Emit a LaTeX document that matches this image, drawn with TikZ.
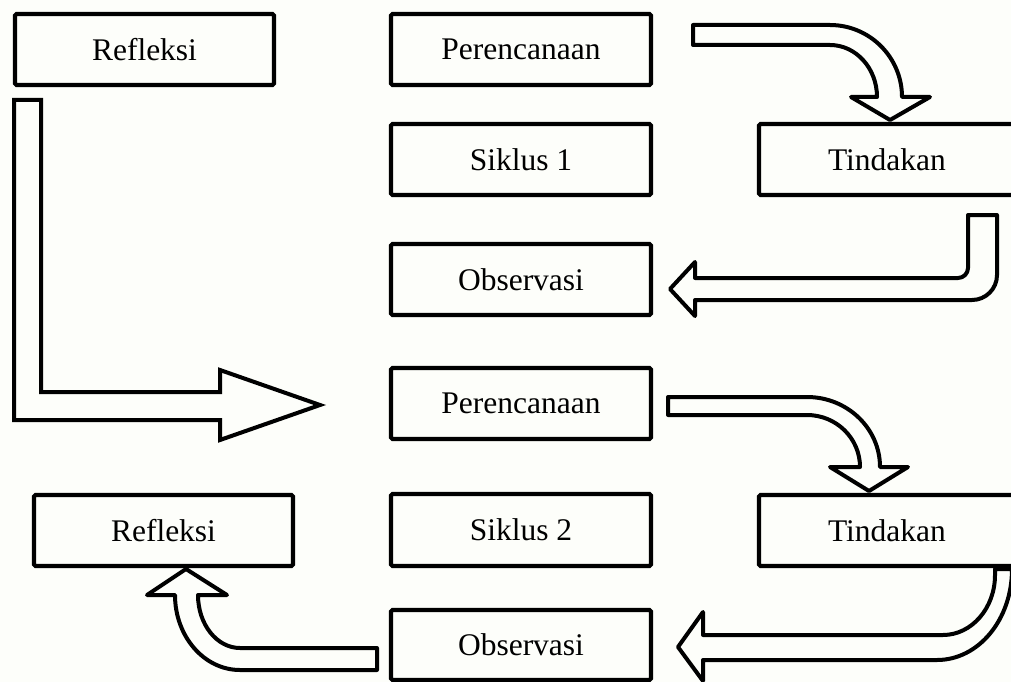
\documentclass[tikz,border=0pt]{standalone}
\usepackage{fontspec}
\setmainfont{Liberation Serif}
\definecolor{bg}{RGB}{253,254,250}
\begin{document}
\begin{tikzpicture}[x=1pt,y=-1pt,
  box/.style={draw=black, line width=4.2pt, rounded corners=1.5pt, fill=bg, inner sep=0pt,
    minimum height=71pt, font=\fontsize{31.5}{36}\selectfont},
  blockarrow/.style={draw=black, line width=4pt, fill=bg, line join=round},
  sharparrow/.style={draw=black, line width=4pt, fill=bg, line join=miter}]
\fill[bg] (0,0) rectangle (1011,682);
\useasboundingbox (0,0) rectangle (1011,682);

% boxes
\node[box, minimum width=259pt] (refl1) at (144.5,49.5) {Refleksi};
\node[box, minimum width=260pt] (per1) at (521,49.5) {Perencanaan};
\node[box, minimum width=260pt] (sik1) at (521,159.5) {Siklus 1};
\node[box, minimum width=256pt] (tin1) at (887,159.5) {Tindakan};
\node[box, minimum width=260pt] (obs1) at (521,279.5) {Observasi};
\node[box, minimum width=260pt] (per2) at (521,403.5) {Perencanaan};
\node[box, minimum width=260pt, minimum height=72pt] (sik2) at (521,530) {Siklus 2};
\node[box, minimum width=256pt] (tin2) at (887,530.5) {Tindakan};
\node[box, minimum width=259pt] (refl2) at (163.5,530.5) {Refleksi};
\node[box, minimum width=260pt, minimum height=70pt] (obs2) at (521,645) {Observasi};

% arrow: Perencanaan 1 -> Tindakan 1
\draw[blockarrow] (693,25) -- (830,25)
  .. controls (869.7,25) and (902,57.3) .. (902,97)
  -- (930,97) -- (890,120) -- (851,97) -- (877,97)
  .. controls (877,68.3) and (856,45) .. (830,45)
  -- (693,45) -- cycle;

% arrow: Tindakan 1 -> Observasi 1
\draw[blockarrow] (968,215) -- (997,215) -- (997,275)
  .. controls (997,288.8) and (985.8,300) .. (972,300)
  -- (695,300) -- (695,316) -- (670,289) -- (695,262) -- (695,278)
  -- (958,278) .. controls (963.5,278) and (968,273.5) .. (968,268)
  -- cycle;

% arrow: Refleksi 1 -> Perencanaan 2
\draw[sharparrow] (14,100) -- (41,100) -- (41,392) -- (220,392) -- (220,370)
  -- (320,405) -- (220,440) -- (220,420) -- (14,420) -- cycle;

% arrow: Perencanaan 2 -> Tindakan 2
\draw[blockarrow] (668,397) -- (807,397)
  .. controls (847.3,397) and (880,428.4) .. (880,467)
  -- (908,467) -- (869,491) -- (830,467) -- (860,467)
  .. controls (860,438.3) and (836.3,415) .. (807,415)
  -- (668,415) -- cycle;

% arrow: Tindakan 2 -> Observasi 2
\draw[blockarrow] (995,569) -- (1012,569)
  .. controls (1012,619.8) and (978.4,660) .. (937,660)
  -- (703,660) -- (703,681) -- (678,647) -- (703,612) -- (703,635)
  -- (943,635) .. controls (971.7,635) and (995,608.1) .. (995,575)
  -- cycle;

% arrow: Observasi 2 -> Refleksi 2
\draw[blockarrow] (377,648) -- (377,670) -- (240,670)
  .. controls (204.1,670) and (175,636.4) .. (175,595)
  -- (147,595) -- (186,569) -- (227,595) -- (198,595)
  .. controls (198,624.3) and (216.8,648) .. (240,648)
  -- cycle;
\end{tikzpicture}
\end{document}
